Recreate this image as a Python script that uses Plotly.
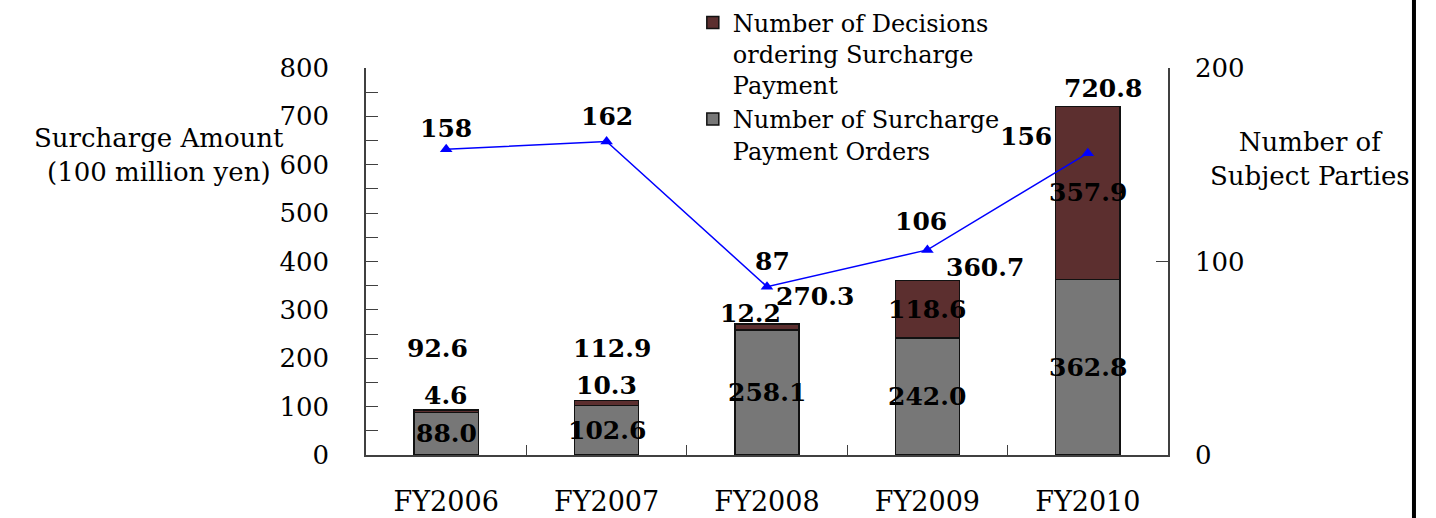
import plotly.graph_objects as go

categories = ["FY2006", "FY2007", "FY2008", "FY2009", "FY2010"]
orders_amount = [88.0, 102.6, 258.1, 242.0, 362.8]       # gray
decisions_amount = [4.6, 10.3, 12.2, 118.6, 357.9]      # dark red
total_amount = [92.6, 112.9, 270.3, 360.7, 720.8]
subject_parties = [158, 162, 87, 106, 156]

# label placement (pixels) - styling only
red_inside = [False, False, False, True, True]
red_off = [(0, 15), (0, 15), (-17, 11), (0, 0), (0, 0)]
tot_off = [(-9, 62), (5, 52), (48, 28), (58, 13), (15, 18)]
line_off = [(0, 21), (0, 25), (5, 25), (-6, 28), (-62, 17)]

FONT = "DejaVu Serif"
GRAY = "#777777"
RED = "#5c2f2f"
AX = "#404040"

fig = go.Figure()
fig.add_trace(go.Bar(
    x=categories, y=orders_amount, name="Number of Surcharge<br>Payment Orders",
    marker=dict(color=GRAY, line=dict(color="#111111", width=1.5)), width=0.4,
    hoverinfo="y"))
fig.add_trace(go.Bar(
    x=categories, y=decisions_amount, name="Number of Decisions<br>ordering Surcharge<br>Payment",
    marker=dict(color=RED, line=dict(color="#111111", width=1.5)), width=0.4,
    hoverinfo="y"))
fig.add_trace(go.Scatter(
    x=categories, y=subject_parties, yaxis="y2", mode="lines+markers",
    line=dict(color="#0000ff", width=1.5),
    marker=dict(symbol="triangle-up", size=11, color="#0000ff"),
    showlegend=False))

ann = []
bold = dict(family=FONT, size=25, color="#000000")
for i, c in enumerate(categories):
    ann.append(dict(x=c, y=orders_amount[i] / 2, text="<b>%.1f</b>" % orders_amount[i],
                    showarrow=False, font=bold))
    if red_inside[i]:
        ann.append(dict(x=c, y=orders_amount[i] + decisions_amount[i] / 2,
                        text="<b>%.1f</b>" % decisions_amount[i], showarrow=False, font=bold))
    else:
        ann.append(dict(x=c, y=total_amount[i], text="<b>%.1f</b>" % decisions_amount[i],
                        showarrow=False, font=bold, xshift=red_off[i][0], yshift=red_off[i][1]))
    ann.append(dict(x=c, y=total_amount[i], text="<b>%.1f</b>" % total_amount[i],
                    showarrow=False, font=bold, xshift=tot_off[i][0], yshift=tot_off[i][1]))
    ann.append(dict(x=c, y=subject_parties[i], yref="y2", text="<b>%d</b>" % subject_parties[i],
                    showarrow=False, font=bold, xshift=line_off[i][0], yshift=line_off[i][1]))

ann.append(dict(xref="paper", yref="paper", x=-0.258, y=0.775, xanchor="center", yanchor="middle",
                text="Surcharge Amount<br>(100 million yen)",
                showarrow=False, font=dict(family=FONT, size=26, color="#000"), align="center"))
ann.append(dict(xref="paper", yref="paper", x=1.1775, y=0.765, xanchor="center", yanchor="middle",
                text="Number of<br>Subject Parties",
                showarrow=False, font=dict(family=FONT, size=26, color="#000"), align="center"))

fig.update_layout(
    width=1436, height=518,
    margin=dict(l=366, r=268, t=68, b=63, autoexpand=False),
    paper_bgcolor="white", plot_bgcolor="white",
    barmode="stack", bargap=0.6,
    font=dict(family=FONT, size=26, color="#000"),
    showlegend=True,
    legend=dict(x=0.4075, y=1.175, xanchor="left", yanchor="top", traceorder="reversed",
                valign="top", bgcolor="rgba(0,0,0,0)", font=dict(family=FONT, size=24),
                tracegroupgap=0, itemwidth=30),
    xaxis=dict(showline=True, linecolor=AX, linewidth=2, ticks="inside", ticklen=10,
               tickcolor=AX, tickson="boundaries", ticklabelstandoff=22, showgrid=False,
               tickfont=dict(family=FONT, size=27)),
    yaxis=dict(range=[0, 800], dtick=100, showline=True, linecolor=AX, linewidth=1.5,
               ticks="inside", ticklen=12, tickcolor=AX, showgrid=False, zeroline=False,
               ticklabelstandoff=30, tickfont=dict(family=FONT, size=26),
               minor=dict(ticks="inside", dtick=50, ticklen=12, tickcolor=AX)),
    yaxis2=dict(range=[0, 200], dtick=100, overlaying="y", side="right", showline=True,
                linecolor=AX, linewidth=1.5, ticks="inside", ticklen=12, tickcolor=AX,
                showgrid=False, zeroline=False, ticklabelstandoff=20,
                tickfont=dict(family=FONT, size=26)),
    annotations=ann,
    shapes=[dict(type="line", xref="paper", yref="paper", x0=1.3067, x1=1.3067, y0=-0.2, y1=1.2,
                 line=dict(color="#000", width=4))],
)

fig.write_html("out.html", config={"displayModeBar": False},
               post_script="document.body.style.margin='0';document.body.style.overflow='hidden';")
